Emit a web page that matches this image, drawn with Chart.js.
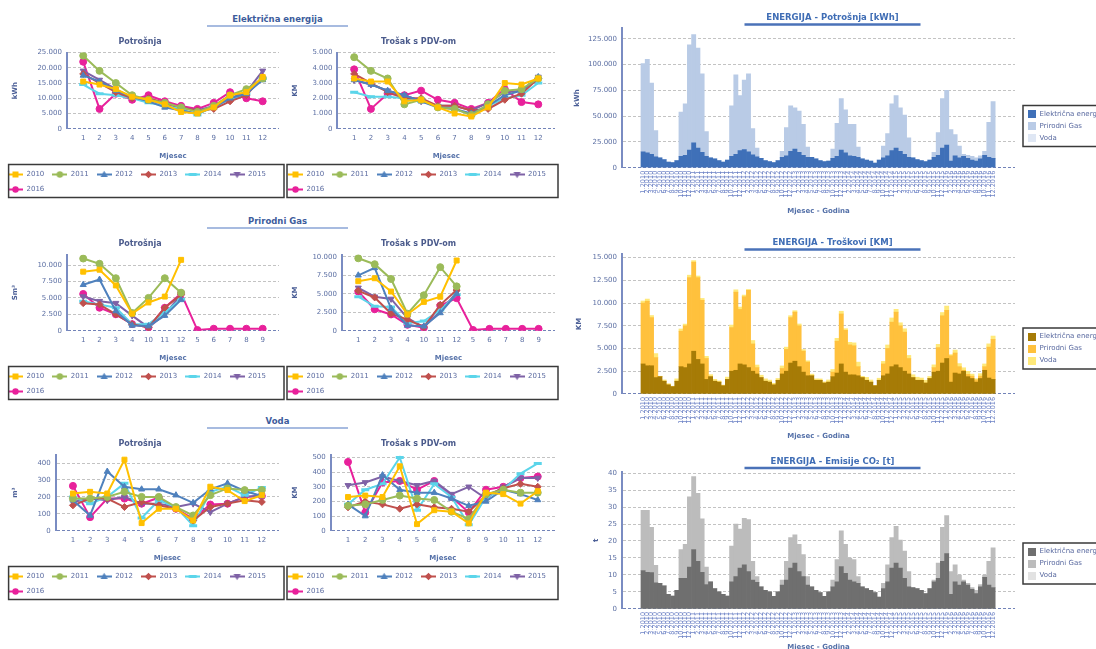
<!DOCTYPE html>
<html lang="bs">
<head>
<meta charset="utf-8">
<title>Energija</title>
<script src="https://cdn.jsdelivr.net/npm/chart.js@4.4.1/dist/chart.umd.min.js"></script>
<style>
html, body { margin: 0; padding: 0; background: #fff; }
body { position: relative; width: 1096px; height: 649px; overflow: hidden; font-family: "DejaVu Sans", Verdana, sans-serif; }
canvas { position: absolute; }
.sekcija { position: absolute; left: 207px; width: 141px; text-align: center; font-size: 8.5px; font-weight: bold; line-height: 11px; color: #3d5c9c; border-bottom: 2px solid #a7bbe0; }
</style>
</head>
<body>
<div class="sekcija" style="top:14px">Električna energija</div>
<div class="sekcija" style="top:216px">Prirodni Gas</div>
<div class="sekcija" style="top:416px">Voda</div>

<canvas id="el-potrosnja" width="286" height="170" style="left:0;top:33px"></canvas>
<canvas id="el-trosak" width="282" height="170" style="left:280px;top:33px"></canvas>
<canvas id="gas-potrosnja" width="286" height="170" style="left:0;top:235px"></canvas>
<canvas id="gas-trosak" width="282" height="170" style="left:280px;top:235px"></canvas>
<canvas id="voda-potrosnja" width="286" height="170" style="left:0;top:435px"></canvas>
<canvas id="voda-trosak" width="282" height="170" style="left:280px;top:435px"></canvas>
<canvas id="energija-kwh" width="545" height="222" style="left:560px;top:0"></canvas>
<canvas id="energija-km" width="545" height="222" style="left:560px;top:225px"></canvas>
<canvas id="energija-co2" width="545" height="213" style="left:560px;top:445px"></canvas>

<script>
var years = ['2010', '2011', '2012', '2013', '2014', '2015', '2016'];
var months = ['1', '2', '3', '4', '5', '6', '7', '8', '9', '10', '11', '12'];
// plin se prati po sezoni grijanja
var gasMonths = ['1', '2', '3', '4', '10', '11', '12', '5', '6', '7', '8', '9'];
var energyTypes = ['Električna energija', 'Prirodni Gas', 'Voda'];

// Električna energija [kWh], redovi = godine
var elecKwh = [
    [15500, 14500, 13000, 10500, 9500, 8000, 5500, 5000, 7000, 11000, 12000, 17000],
    [24000, 19000, 15000, 11000, 9500, 8500, 7000, 5500, 7500, 11000, 13000, 16500],
    [17500, 15500, 12500, 10500, 9000, 7000, 6000, 5000, 7000, 10000, 11500, 16000],
    [18000, 15000, 12000, 10000, 10000, 8500, 7000, 6000, 6500, 9000, 11000, 17000],
    [14500, 11500, 11000, 10000, 8500, 7500, 6500, 4500, 7500, 9500, 11500, 16500],
    [19000, 16000, 13000, 10000, 9500, 8000, 7000, 6000, 7500, 10000, 12000, 19000],
    [22000, 6500, 11500, 9500, 11000, 9000, 7500, 6500, 8500, 12000, 10000, 9000]
];
// Električna energija - trošak s PDV-om [KM]
var elecKm = [
    [3300, 3100, 3100, 1800, 1900, 1400, 1000, 800, 1400, 3000, 2900, 3300],
    [4700, 3800, 3300, 1600, 1900, 1400, 1300, 900, 1600, 2500, 2600, 3300],
    [3200, 2900, 2500, 2200, 1800, 1400, 1300, 1000, 1500, 2200, 2500, 3400],
    [3600, 3000, 2400, 2000, 2000, 1500, 1500, 1200, 1300, 1900, 2300, 3300],
    [2400, 2100, 2100, 2000, 1800, 1500, 1300, 900, 1500, 2000, 2200, 3000],
    [3200, 2900, 2500, 2200, 1800, 1500, 1500, 1200, 1700, 2400, 2500, 3400],
    [3900, 1300, 2300, 2200, 2500, 1900, 1700, 1300, 1700, 2600, 1750, 1600]
];
// Prirodni gas [Sm3], redoslijed kao gasMonths
var gasSm3 = [
    [9000, 9300, 6900, 2600, 4300, 5200, 10800],
    [11000, 10200, 8000, 2700, 5000, 8000, 5800],
    [7000, 7800, 3000, 800, 700, 2300, 4700],
    [4200, 4000, 2500, 1000, 500, 3500, 5500],
    [4500, 4000, 3500, 1000, 1000, 2800, 4800],
    [5200, 4500, 4200, 2300, 500, 2500, 5500],
    [5600, 3500, 2500, 1000, 500, 3500, 5700, 100, 300, 300, 300, 300]
];
var gasKm = [
    [6700, 7100, 5300, 2200, 3900, 4600, 9500],
    [9800, 9000, 7000, 2300, 4800, 8600, 6000],
    [7500, 8500, 3000, 700, 600, 2400, 5000],
    [5400, 4500, 2300, 1500, 500, 3500, 5500],
    [4600, 3300, 3200, 1000, 1300, 2800, 4900],
    [5800, 4600, 4300, 1700, 500, 2600, 5200],
    [5300, 2900, 2200, 800, 400, 3400, 4400, 100, 250, 250, 250, 250]
];
// Voda [m3]
var waterM3 = [
    [220, 230, 220, 420, 45, 130, 130, 60, 260, 240, 175, 210],
    [190, 190, 200, 230, 200, 200, 140, 90, 210, 250, 240, 240],
    [180, 90, 350, 260, 245, 245, 210, 165, 245, 280, 235, 205],
    [150, 190, 190, 140, 170, 150, 130, 60, 140, 160, 180, 170],
    [200, 160, 200, 280, 75, 180, 140, 30, 230, 260, 210, 255],
    [170, 190, 180, 200, 160, 160, 140, 160, 110, 160, 200, 210],
    [265, 80, 190, 190, 160, 195, 130, 70, 155, 160, 200, 205]
];
var waterKm = [
    [230, 240, 230, 440, 45, 140, 130, 50, 260, 250, 185, 270],
    [170, 180, 210, 240, 220, 210, 130, 80, 250, 280, 260, 260],
    [180, 100, 380, 280, 260, 260, 220, 170, 200, 280, 250, 210],
    [160, 200, 180, 150, 180, 160, 150, 130, 240, 290, 320, 300],
    [180, 280, 320, 500, 140, 320, 230, 40, 230, 280, 390, 460],
    [310, 330, 370, 340, 310, 340, 250, 300, 220, 300, 360, 360],
    [470, 125, 330, 340, 280, 340, 230, 125, 280, 300, 360, 370]
];
// Prirodni gas u kWh (sa zbirnog grafikona), po mjesecima 1-12
var gasKwh = [
    [85500, 90500, 69000, 25500, 0, 0, 0, 0, 0, 43000, 50000, 102000],
    [105000, 97000, 76000, 24000, 0, 0, 0, 0, 0, 49000, 77000, 53500],
    [67500, 75500, 25500, 8500, 0, 0, 0, 0, 0, 6000, 27500, 44000],
    [40000, 40000, 30000, 10000, 0, 0, 0, 0, 0, 9000, 32000, 50000],
    [41500, 30500, 31000, 10000, 0, 0, 0, 0, 0, 11500, 21500, 45500],
    [51000, 42000, 38000, 19000, 0, 0, 0, 0, 0, 5000, 22000, 48000],
    [53000, 30500, 20500, 11500, 2000, 3000, 3500, 3000, 3000, 4000, 34000, 55000]
];
// Emisije CO2 [t]
var co2Elec = [
    [11.3, 10.8, 10.7, 7.7, 7.5, 6.8, 4.3, 3.8, 5.5, 9.0, 9.0, 12.3],
    [17.5, 14.0, 10.8, 7.2, 8.0, 6.0, 5.0, 4.3, 3.8, 8.0, 9.5, 12.0],
    [13.0, 11.0, 8.5, 7.8, 6.5, 5.5, 5.0, 3.7, 5.0, 7.0, 8.5, 12.0],
    [13.5, 11.0, 9.5, 7.0, 6.5, 5.5, 4.8, 3.7, 5.0, 6.5, 8.0, 12.5],
    [10.5, 8.5, 8.0, 7.5, 6.5, 6.0, 5.5, 4.8, 3.5, 6.0, 8.0, 12.0],
    [13.5, 12.0, 9.0, 6.5, 6.3, 6.0, 5.5, 4.5, 6.0, 8.0, 9.0, 14.0],
    [16.3, 4.3, 8.0, 7.0, 8.0, 7.0, 5.8, 4.5, 6.5, 9.3, 7.0, 6.3]
];
var co2Gas = [
    [17.7, 18.2, 13.3, 5.1, 0, 0, 0, 0, 0, 8.5, 10.0, 20.7],
    [21.5, 20.0, 15.7, 5.1, 0, 0, 0, 0, 0, 10.5, 15.5, 11.5],
    [13.7, 15.3, 5.5, 1.7, 0, 0, 0, 0, 0, 1.5, 5.5, 9.0],
    [8.3, 8.0, 6.5, 2.5, 0, 0, 0, 0, 0, 2.0, 6.5, 10.5],
    [8.5, 6.5, 6.5, 2.0, 0, 0, 0, 0, 0, 1.5, 5.0, 9.0],
    [10.8, 8.3, 8.0, 4.5, 0, 0, 0, 0, 0, 0.5, 4.5, 10.0],
    [11.2, 6.7, 5.0, 3.0, 0.5, 0.5, 0.5, 1.0, 0.7, 0.7, 7.0, 11.7]
];

var yearColors = ['#ffc000', '#9bbb59', '#4f81bd', '#c0504d', '#5bd5ea', '#7f62a6', '#e8219b'];
var yearStyles = ['rect', 'circle', 'triangle', 'rectRot', 'line', 'triangle', 'circle'];
var yearRotation = [0, 0, 0, 0, 0, 180, 0];

Chart.defaults.font.family = '"DejaVu Sans", Verdana, sans-serif';
Chart.defaults.font.size = 7;
Chart.defaults.color = '#5c6fa3';

var TICK_COLOR = '#5c6fa3';
var AXIS_COLOR = '#7a8cc2';

function fmt(v) {
    return String(v).replace(/\B(?=(\d{3})+(?!\d))/g, '.');
}

function flatten(rows) {
    return [].concat.apply([], rows);
}

// y podjela: 0, step, 2*step ... do max (max ostaje bez oznake)
function stepTicks(max, step) {
    return function (s) {
        var t = [];
        for (var v = 0; v <= max + 1e-9; v += step) {
            t.push({ value: Math.round(v * 1000) / 1000 });
        }
        s.ticks = t;
    };
}

// okviri legendi i podvučeni naslovi
var decorPlugin = {
    id: 'decor',
    afterDraw: function (chart, args, o) {
        var ctx = chart.ctx;
        var lg = chart.legend;
        ctx.save();
        ctx.strokeStyle = '#3a3a3a';
        ctx.lineWidth = 1.5;
        if (o.box) {
            ctx.strokeRect(o.box[0], lg.top + 1.5, o.box[1] - o.box[0], 33);
        }
        if (o.sideBox) {
            var hb = lg.legendHitBoxes;
            var top = hb[0].top - 5;
            var bottom = hb[hb.length - 1].top + hb[hb.length - 1].height + 5;
            ctx.strokeRect(lg.left + o.sideBox, top, chart.width, bottom - top);
        }
        if (o.underline) {
            var t = chart.titleBlock;
            var cx = (t.left + t.right) / 2;
            ctx.strokeStyle = '#4a72b8';
            ctx.lineWidth = 2.5;
            ctx.beginPath();
            ctx.moveTo(cx - 88, o.underline);
            ctx.lineTo(cx + 88, o.underline);
            ctx.stroke();
        }
        ctx.restore();
    }
};

function lineIcon(color, style, rot) {
    var c = document.createElement('canvas');
    c.width = 15;
    c.height = 9;
    var g = c.getContext('2d');
    g.strokeStyle = color;
    g.fillStyle = color;
    g.lineWidth = 2;
    g.beginPath();
    g.moveTo(0, 4.5);
    g.lineTo(15, 4.5);
    g.stroke();
    g.save();
    g.translate(7.5, 4.5);
    g.rotate(rot * Math.PI / 180);
    g.beginPath();
    if (style === 'rect') {
        g.rect(-3, -3, 6, 6);
    } else if (style === 'circle') {
        g.arc(0, 0, 3.2, 0, Math.PI * 2);
    } else if (style === 'triangle') {
        g.moveTo(0, -3.8); g.lineTo(3.6, 2.6); g.lineTo(-3.6, 2.6); g.closePath();
    } else if (style === 'rectRot') {
        g.moveTo(0, -3.8); g.lineTo(3.8, 0); g.lineTo(0, 3.8); g.lineTo(-3.8, 0); g.closePath();
    } else {
        g.rect(-4, -1.5, 8, 3);
    }
    g.fill();
    g.restore();
    return c;
}

function swatch(color) {
    var c = document.createElement('canvas');
    c.width = 16;
    c.height = 8;
    var g = c.getContext('2d');
    g.fillStyle = color;
    g.fillRect(8, 0, 8, 8);
    return c;
}

var yearIcons = years.map(function (y, k) {
    return lineIcon(yearColors[k], yearStyles[k], yearRotation[k]);
});

function LoadLineChart(id, o) {
    var left = o.side === 'left';
    var datasets = years.map(function (year, k) {
        var isDash = yearStyles[k] === 'line';
        return {
            label: year,
            data: o.series[k].map(function (v, i) { return { x: i + 1, y: v }; }),
            borderColor: yearColors[k],
            backgroundColor: yearColors[k],
            borderWidth: 2,
            pointStyle: yearStyles[k],
            pointRotation: yearRotation[k],
            pointRadius: isDash ? 4 : 3.5,
            pointBorderWidth: isDash ? 3 : 1,
            pointBackgroundColor: yearColors[k],
            pointBorderColor: yearColors[k]
        };
    });

    new Chart(document.getElementById(id), {
        type: 'line',
        data: { datasets: datasets },
        plugins: [decorPlugin],
        options: {
            responsive: false,
            animation: false,
            devicePixelRatio: 1,
            layout: { padding: { left: 0, right: left ? 6 : 5, top: 0, bottom: 0 } },
            plugins: {
                title: {
                    display: true,
                    text: o.title,
                    color: '#4b5b8c',
                    font: { size: 8, weight: 'bold' },
                    padding: { top: 4, bottom: 6 }
                },
                legend: {
                    position: 'bottom',
                    align: 'start',
                    labels: {
                        usePointStyle: true,
                        pointStyleWidth: 15,
                        boxHeight: 7,
                        padding: 8,
                        color: '#5a6aa0',
                        font: { size: 7 },
                        generateLabels: function (ch) {
                            return ch.data.datasets.map(function (d, i) {
                                return {
                                    text: d.label,
                                    pointStyle: yearIcons[i],
                                    fillStyle: d.borderColor,
                                    strokeStyle: d.borderColor,
                                    lineWidth: 0,
                                    hidden: false,
                                    datasetIndex: i,
                                    fontColor: '#5a6aa0'
                                };
                            });
                        }
                    }
                },
                tooltip: { enabled: false },
                decor: { box: left ? [8.6, 284] : [7, 278] }
            },
            scales: {
                x: {
                    type: 'linear',
                    min: 0,
                    max: 13,
                    grid: { display: false, drawTicks: false },
                    border: { display: false },
                    afterBuildTicks: function (s) {
                        s.ticks = o.cats.map(function (c, i) { return { value: i + 1 }; });
                    },
                    ticks: {
                        autoSkip: false,
                        maxRotation: 0,
                        padding: 5,
                        color: TICK_COLOR,
                        font: { size: 7 },
                        callback: function (v) { return o.cats[v - 1]; }
                    },
                    title: {
                        display: true,
                        text: 'Mjesec',
                        color: '#5470a8',
                        font: { size: 7, weight: 'bold' },
                        padding: { top: 5, bottom: 2.5 }
                    }
                },
                y: {
                    min: 0,
                    max: o.max,
                    afterBuildTicks: stepTicks(o.max, o.step),
                    ticks: {
                        padding: 5,
                        color: TICK_COLOR,
                        font: { size: 7 },
                        callback: fmt
                    },
                    grid: {
                        drawTicks: false,
                        lineWidth: 1,
                        color: function (c) { return c.tick && c.tick.value === 0 ? '#7283b8' : '#c3c3c3'; }
                    },
                    border: { color: AXIS_COLOR, width: 2, dash: [3, 2] },
                    title: {
                        display: true,
                        text: o.yTitle,
                        color: '#4a5e96',
                        font: { size: 7, weight: 'bold' },
                        padding: { top: 11, bottom: left ? 13 : 8 }
                    }
                }
            }
        }
    });
}

var monthLabels = [];
years.forEach(function (y) {
    months.forEach(function (m) { monthLabels.push(m + '.' + y); });
});

// plin po sezoni -> kalendarski mjeseci (bez podatka = 0)
function byMonth(rows) {
    return rows.map(function (r) {
        return months.map(function (m) {
            var j = gasMonths.indexOf(m);
            return j < r.length ? r[j] : 0;
        });
    });
}

function LoadStackChart(id, o) {
    var datasets = o.series.map(function (s, k) {
        return {
            label: energyTypes[k],
            data: s.map(function (v, i) { return { x: i, y: v }; }),
            backgroundColor: o.colors[k],
            borderWidth: 0,
            barPercentage: 1,
            categoryPercentage: 1
        };
    });

    new Chart(document.getElementById(id), {
        type: 'bar',
        data: { datasets: datasets },
        plugins: [decorPlugin],
        options: {
            responsive: false,
            animation: false,
            devicePixelRatio: 1,
            plugins: {
                title: {
                    display: true,
                    text: o.title,
                    color: '#3f6db5',
                    font: { size: 8.5, weight: 'bold' },
                    padding: { top: o.titlePad[0], bottom: o.titlePad[1] }
                },
                legend: {
                    position: 'right',
                    maxWidth: 90,
                    title: { display: true, text: '', padding: { top: o.legendPad, bottom: 7.6 } },
                    labels: {
                        usePointStyle: true,
                        pointStyleWidth: 16,
                        boxHeight: 7,
                        padding: 5,
                        color: '#5a6aa0',
                        font: { size: 7 },
                        generateLabels: function (ch) {
                            return ch.data.datasets.map(function (d, i) {
                                return {
                                    text: d.label,
                                    pointStyle: swatch(d.backgroundColor),
                                    fillStyle: d.backgroundColor,
                                    lineWidth: 0,
                                    hidden: false,
                                    datasetIndex: i,
                                    fontColor: '#5a6aa0'
                                };
                            });
                        }
                    }
                },
                tooltip: { enabled: false },
                decor: { sideBox: 8, underline: o.underline }
            },
            scales: {
                x: {
                    type: 'linear',
                    stacked: true,
                    offset: false,
                    min: -5,
                    max: 88.2,
                    grid: { display: false, drawTicks: false },
                    border: { display: false },
                    afterBuildTicks: function (s) {
                        s.ticks = monthLabels.map(function (m, i) { return { value: i }; });
                    },
                    ticks: {
                        autoSkip: false,
                        minRotation: 90,
                        maxRotation: 90,
                        padding: 3,
                        color: '#6f84c6',
                        font: { size: 6.5 },
                        callback: function (v) { return monthLabels[v]; }
                    },
                    title: {
                        display: true,
                        text: 'Mjesec - Godina',
                        color: '#5470a8',
                        font: { size: 7, weight: 'bold' },
                        padding: { top: o.xTitlePad, bottom: 6.8 }
                    }
                },
                y: {
                    stacked: true,
                    min: 0,
                    max: o.max,
                    afterFit: function (s) { s.width = 62; },
                    afterBuildTicks: stepTicks(o.max, o.step),
                    ticks: {
                        padding: 5,
                        color: TICK_COLOR,
                        font: { size: 7 },
                        callback: fmt
                    },
                    grid: {
                        drawTicks: false,
                        lineWidth: 1,
                        color: function (c) { return c.tick && c.tick.value === 0 ? '#7283b8' : '#c3c3c3'; }
                    },
                    border: { color: AXIS_COLOR, width: 2, dash: [3, 2] },
                    title: {
                        display: true,
                        text: o.yTitle,
                        color: '#4a5e96',
                        font: { size: 7, weight: 'bold' },
                        padding: { top: o.yTitlePad, bottom: 4 }
                    }
                }
            }
        }
    });
}

LoadLineChart('el-potrosnja', { title: 'Potrošnja', yTitle: 'kWh', cats: months, series: elecKwh, max: 25000, step: 5000, side: 'left' });
LoadLineChart('el-trosak', { title: 'Trošak s PDV-om', yTitle: 'KM', cats: months, series: elecKm, max: 5000, step: 1000, side: 'right' });
LoadLineChart('gas-potrosnja', { title: 'Potrošnja', yTitle: 'Sm³', cats: gasMonths, series: gasSm3, max: 11600, step: 2500, side: 'left' });
LoadLineChart('gas-trosak', { title: 'Trošak s PDV-om', yTitle: 'KM', cats: gasMonths, series: gasKm, max: 10300, step: 2500, side: 'right' });
LoadLineChart('voda-potrosnja', { title: 'Potrošnja', yTitle: 'm³', cats: months, series: waterM3, max: 450, step: 100, side: 'left' });
LoadLineChart('voda-trosak', { title: 'Trošak s PDV-om', yTitle: 'KM', cats: months, series: waterKm, max: 520, step: 100, side: 'right' });

LoadStackChart('energija-kwh', {
    title: 'ENERGIJA - Potrošnja [kWh]', yTitle: 'kWh',
    series: [flatten(elecKwh), flatten(gasKwh), []],
    colors: ['#3f70b8', '#b9cbe6', '#dfe7f4'],
    max: 135000, step: 25000,
    titlePad: [12.7, 5.5], yTitlePad: 12.8, xTitlePad: 6.2, underline: 24.6, legendPad: 14
});
LoadStackChart('energija-km', {
    title: 'ENERGIJA - Troškovi [KM]', yTitle: 'KM',
    series: [flatten(elecKm), flatten(byMonth(gasKm)), flatten(waterKm)],
    colors: ['#a67b06', '#ffc13d', '#ffe97a'],
    max: 15400, step: 2500,
    titlePad: [12.7, 6.1], yTitlePad: 14.8, xTitlePad: 5, underline: 24.6, legendPad: 9
});
LoadStackChart('energija-co2', {
    title: 'ENERGIJA - Emisije CO₂ [t]', yTitle: 't',
    series: [flatten(co2Elec), flatten(co2Gas), []],
    colors: ['#6f6f6f', '#bcbcbc', '#e2e2e2'],
    max: 40.4, step: 5,
    titlePad: [11.3, 5.2], yTitlePad: 31.8, xTitlePad: 1, underline: 23, legendPad: 8
});
</script>
</body>
</html>
